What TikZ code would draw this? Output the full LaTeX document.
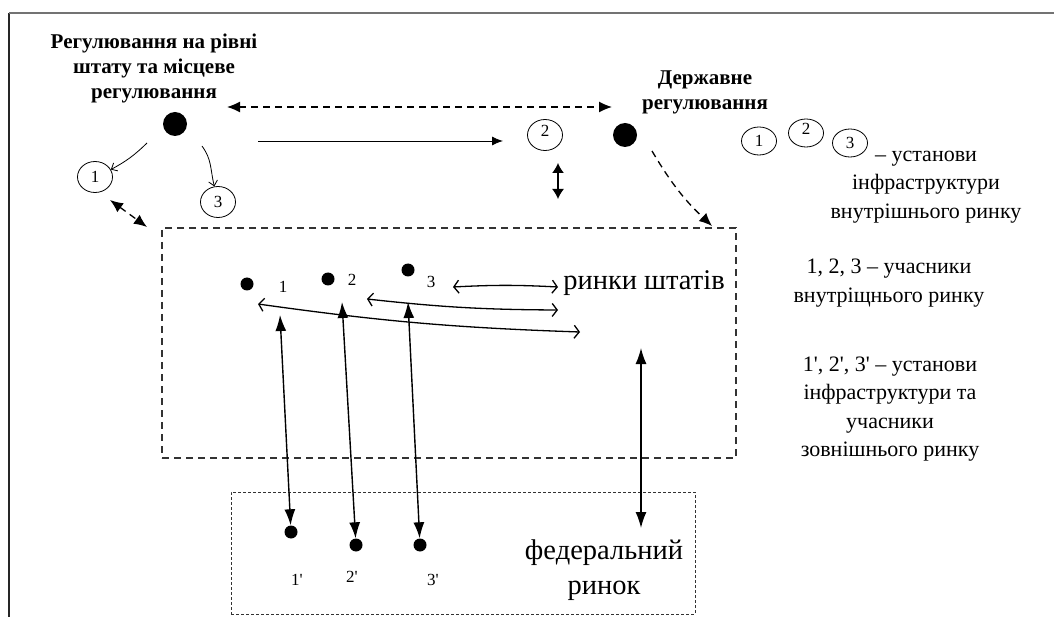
\documentclass[tikz,border=0pt]{standalone}
\usepackage{fontspec}
\setmainfont{Liberation Serif}
\usetikzlibrary{arrows.meta,shapes.geometric}
\newcommand{\primemark}{\textquotesingle}

\begin{document}
\begin{tikzpicture}
        [
            x=1pt, y=-1pt,
            bigdot/.style = {circle, fill, minimum size=24pt, inner sep=0pt},
            dot/.style = {circle, fill, minimum size=13pt, inner sep=0pt},
            inst/.style = {draw, line width=0.8pt, ellipse, minimum width=35pt, minimum height=31pt, inner sep=0pt, font=\fontsize{17}{17}\selectfont},
            lbl/.style = {font=\fontsize{17}{17}\selectfont},
            head/.style = {font=\bfseries\fontsize{21}{25}\selectfont, align=center},
            note/.style = {font=\fontsize{22}{28.5}\selectfont, align=center},
            market/.style = {font=\fontsize{28.5}{35}\selectfont, align=center},
            link/.style = {line width=1.3pt, dash pattern=on 7pt off 5pt, {Latex[length=13pt,width=11pt]}-{Latex[length=13pt,width=11pt]}},
            flow/.style = {line width=1.3pt, {Straight Barb[length=5pt,width=13pt]}-{Straight Barb[length=5pt,width=13pt]}},
            trade/.style = {line width=1.4pt, {Latex[length=16pt,width=11pt]}-{Latex[length=16pt,width=11pt]}},
            thinarrow/.style = {line width=0.8pt, -{Straight Barb[length=5pt,width=9pt]}},
        ]
        \useasboundingbox (0,0) rectangle (1054,617);
        \draw[black!85, line width=1.3pt] (9,617) -- (9,13);
        \draw[black!55, line width=1.3pt] (9,13) -- (1054,13);
        % regulation levels
        \node [head] (shead) at (154,68) {Регулювання на рівні\\штату та місцеве\\регулювання};
        \node [head] (fhead) at (705,92) {Державне\\регулювання};
        \node [bigdot] (sdot) at (175,124) {};
        \node [bigdot] (fdot) at (625,135) {};
        \node [inst] (c1) at (95,177) {1};
        \node [inst, text depth=8pt] (c2) at (545,135) {2};
        \node [inst] (c3) at (218,202) {3};
        \coordinate (sl) at (227,107);
        \coordinate (fl) at (612,107);
        \coordinate (s1) at (147,143);
        \coordinate (s3) at (202,146);
        \coordinate (ss) at (258,141);
        \coordinate (se) at (503,141);
        \coordinate (v1) at (558,163);
        \coordinate (v2) at (558,199);
        \coordinate (f1) at (652,151);
        \coordinate (f2) at (712,226);
        \coordinate (k1) at (110,200);
        \coordinate (k2) at (147,227);
        % state markets
        \node [draw, line width=1.3pt, black!80, dash pattern=on 7pt off 5pt, minimum width=574pt, minimum height=230pt, inner sep=0pt] (states) at (449,343) {};
        \node [market] (stext) at (644,283) {ринки штатів};
        \node [dot] (d1) at (247,284) {};
        \node [dot] (d2) at (328,279) {};
        \node [dot] (d3) at (408,270) {};
        \node [lbl] (l1) at (283,287) {1};
        \node [lbl] (l2) at (352,280) {2};
        \node [lbl] (l3) at (431,282) {3};
        \coordinate (a1) at (453,287);
        \coordinate (a2) at (558,287);
        \coordinate (b1) at (367,299);
        \coordinate (b2) at (558,310);
        \coordinate (g1) at (258,304);
        \coordinate (g2) at (580,332);
        \coordinate (t1) at (280,315);
        \coordinate (t2) at (342,302);
        \coordinate (t3) at (408,302);
        \coordinate (m1) at (641,348);
        \coordinate (m2) at (641,528);
        % federal market
        \node [draw, line width=0.9pt, black!80, dash pattern=on 3pt off 2pt, minimum width=464pt, minimum height=122pt, inner sep=0pt] (federal) at (463,553) {};
        \node [market] (ftext) at (604,570) {федеральний\\ринок};
        \node [dot] (e1) at (291,532) {};
        \node [dot] (e2) at (356,545) {};
        \node [dot] (e3) at (420,545) {};
        \node [lbl] (p1) at (297,580) {1\primemark};
        \node [lbl] (p2) at (352,577) {2\primemark};
        \node [lbl] (p3) at (433,580) {3\primemark};
        % legend
        \node [inst, minimum height=28pt] (lc1) at (759,141) {1};
        \node [inst, minimum height=28pt, text depth=8pt] (lc2) at (806,133) {2};
        \node [inst, minimum height=28pt] (lc3) at (850,143) {3};
        \node [note] (n1) at (926,187) {– установи\\інфраструктури\\внутрішнього ринку};
        \node [note] (n2) at (889,283) {1, 2, 3 – учасники\\внутріщнього ринку};
        \node [note] (n3) at (890,409) {1\primemark, 2\primemark, 3\primemark{} – установи\\інфраструктури та\\учасники\\зовнішнього ринку};
        % connectors
        \draw[link] (sl) -- (fl);
        \draw[line width=0.9pt, -{Latex[length=11pt,width=9pt]}] (ss) -- (se);
        \draw[thinarrow] (s1) to[bend left=8] (c1);
        \draw[thinarrow] (s3) .. controls (212,160) and (210,168) .. (c3);
        \draw[line width=1.3pt, {Latex[length=10pt,width=12pt]}-{Latex[length=10pt,width=12pt]}] (v1) -- (v2);
        \draw[line width=1.3pt, dash pattern=on 7pt off 5pt, -{Latex[length=13pt,width=11pt]}] (f1) to[bend right=8] (f2);
        \draw[link] (k1) -- (k2);
        \draw[flow] (a1) to[bend left=3] (a2);
        \draw[flow] (b1) to[bend right=3] (b2);
        \draw[flow] (g1) to[bend right=3] (g2);
        \draw[trade] (t1) -- (e1);
        \draw[trade] (t2) -- (e2);
        \draw[trade] (t3) -- (e3);
        \draw[trade] (m1) -- (m2);
\end{tikzpicture}
\end{document}
